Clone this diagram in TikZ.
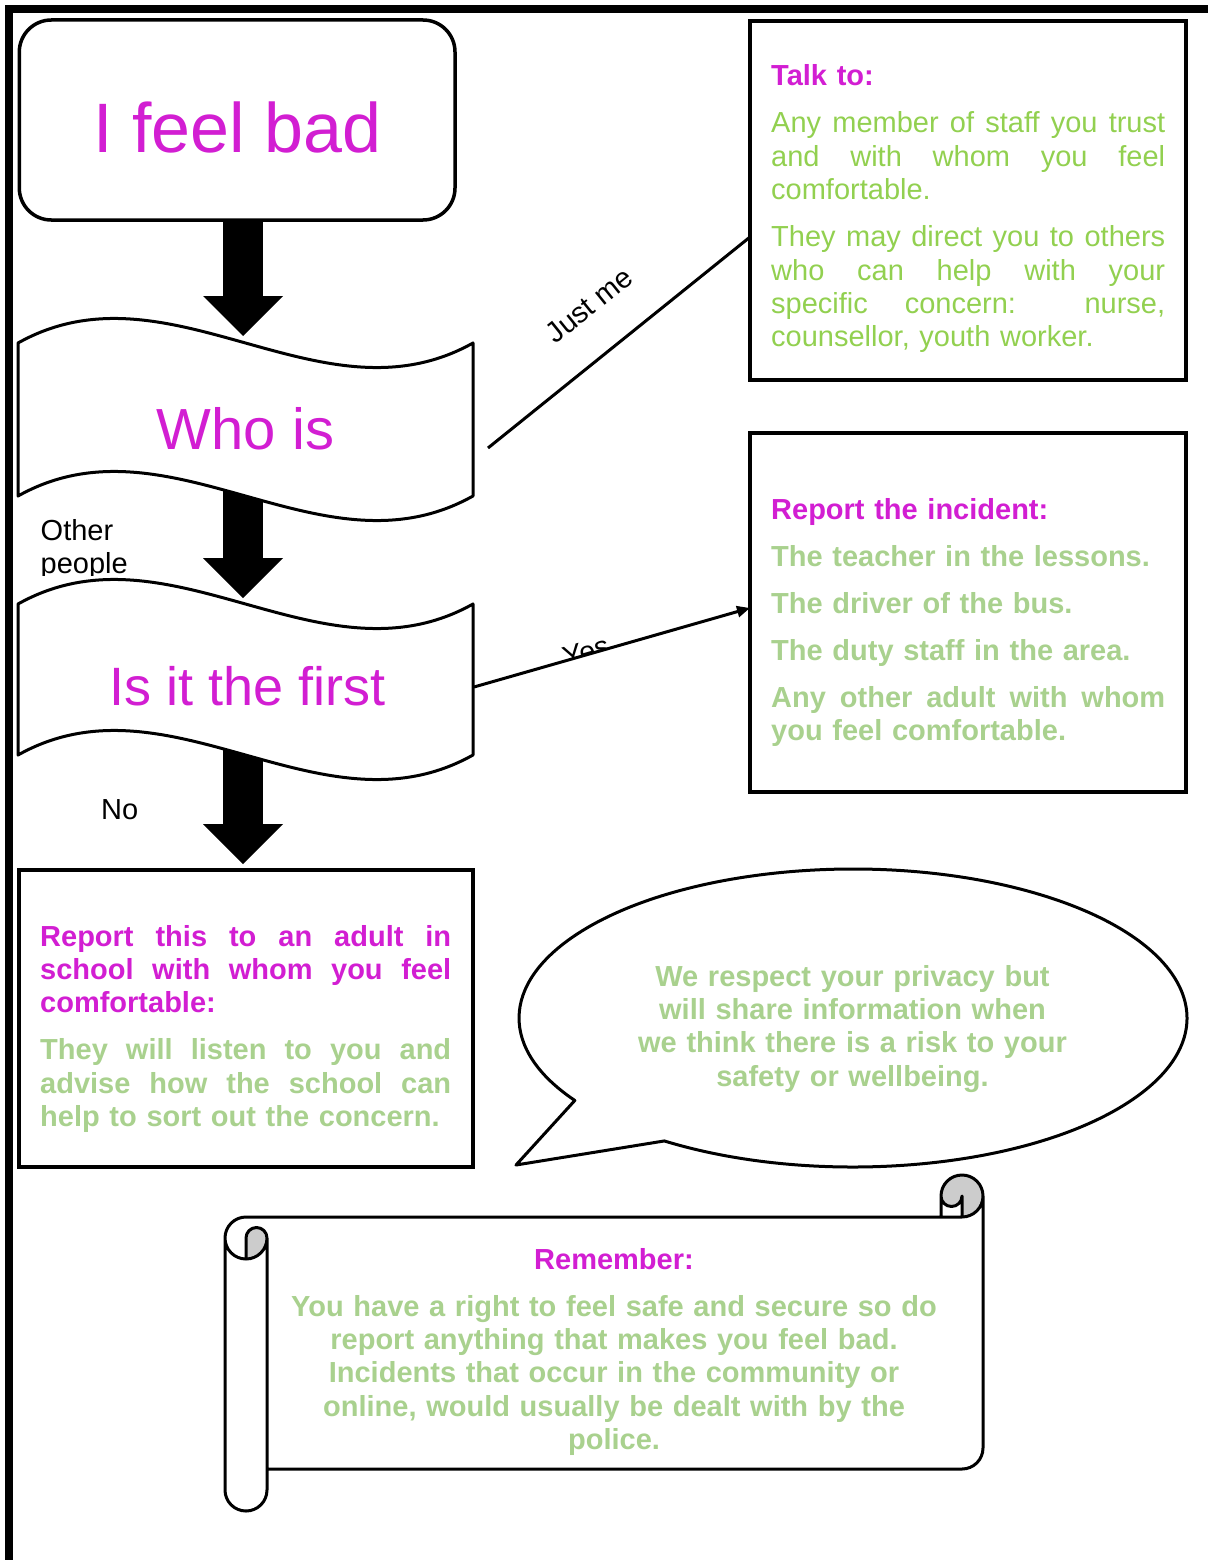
\documentclass[tikz,border=0pt]{standalone}
\usepackage{fontspec}
\setmainfont{Liberation Sans}
\usetikzlibrary{arrows.meta,calc}
\pgfdeclarelayer{bg}
\pgfsetlayers{bg,main}
\definecolor{mag}{RGB}{210,30,210}
\definecolor{lgreen}{RGB}{146,208,80}
\definecolor{pgreen}{RGB}{169,209,142}
\definecolor{rollgray}{RGB}{204,204,204}
\newcommand{\jline}[1]{\makebox[\hsize][s]{\spaceskip=0pt\xspaceskip=0pt #1}}
\begin{document}
\begin{tikzpicture}[x=1pt,y=1pt,
  box/.style={draw, line width=4pt, inner sep=0pt},
  conn/.style={line width=3pt},
  blockarrow/.style={line width=40pt, -{Triangle[length=40pt,width=80pt,line width=0pt]}},
  outline/.style={line width=3pt, line join=round},
  txt/.style={inner sep=0pt, font=\fontsize{29pt}{33.4pt}\selectfont},
  lbl/.style={inner sep=0pt, font=\fontsize{29pt}{33.4pt}\selectfont, text=black},
  big/.style={inner sep=0pt, text=mag}]
\useasboundingbox (0,0) rectangle (1207,-1560);

% frame
\draw[line width=8pt] (8.7,-1575) -- (8.7,-8.7) -- (1220,-8.7);

% I feel bad
\node[box, line width=3.5pt, rounded corners=32pt, minimum width=435.7pt, minimum height=200pt,
      text=mag, font=\fontsize{70pt}{80pt}\selectfont, text height=66pt, text depth=0pt]
      (feel) at (237.15,-120) {I feel bad};

% waves
\draw[outline, fill=white] (18,-343) .. controls (169.67,-258) and (321.33,-428) .. (473,-343)
   -- (473,-496) .. controls (321.33,-581) and (169.67,-411) .. (18,-496) -- cycle;
\draw[outline, fill=white] (18,-604) .. controls (169.67,-519) and (321.33,-689) .. (473,-604)
   -- (473,-755) .. controls (321.33,-840) and (169.67,-670) .. (18,-755) -- cycle;
\node[big, minimum width=455pt, minimum height=153pt, font=\fontsize{58pt}{66pt}\selectfont,
      text height=59pt, text depth=0pt] (who) at (245.5,-419.5) {Who is};
\node[big, minimum width=455pt, minimum height=151pt, font=\fontsize{54pt}{62pt}\selectfont,
      text height=51pt, text depth=0pt] (first) at (247.5,-679.5) {Is it the first};

% Talk to box
\node[box, minimum width=436pt, minimum height=358.7pt] (talk) at (968,-200.35) {};
\node[txt, anchor=base west, text width=394pt, align=left] (talktext) at (771,-86) {%
{\bfseries\color{mag}Talk to:}\\[13.6pt]
\color{lgreen}\jline{Any member of staff you trust}\\
\jline{and with whom you feel}\\
comfortable.\\[13.6pt]
\jline{They may direct you to others}\\
\jline{who can help with your}\\
\jline{specific concern: nurse,}\\
counsellor, youth worker.};

% Report the incident box
\node[box, minimum width=436pt, minimum height=359pt] (incident) at (968,-612.5) {};
\node[txt, anchor=base west, text width=394pt, align=left] (incidenttext) at (771,-519) {%
\bfseries\color{mag}Report the incident:\\[13.6pt]
\color{pgreen}The teacher in the lessons.\\[13.6pt]
The driver of the bus.\\[13.6pt]
The duty staff in the area.\\[13.6pt]
\jline{Any other adult with whom}\\
you feel comfortable.};

% Report this box
\node[box, minimum width=453.4pt, minimum height=296.7pt] (report) at (246,-1018.65) {};
\node[txt, anchor=base west, text width=411pt, align=left] (reporttext) at (40,-946) {%
\bfseries\color{mag}\jline{Report this to an adult in}\\
\jline{school with whom you feel}\\
comfortable:\\[13.6pt]
\color{pgreen}\jline{They will listen to you and}\\
\jline{advise how the school can}\\
help to sort out the concern.};

% speech bubble
\draw[outline, fill=white] (853,-1018) ++(235.6:334pt and 149pt)
   arc[start angle=235.6, end angle=573.6, x radius=334pt, y radius=149pt]
   -- (516,-1165) -- cycle;
\node[txt, anchor=base, text width=480pt, align=center] (bubbletext) at (852.5,-986) {%
\bfseries\color{pgreen}We respect your privacy but\\
will share information when\\
we think there is a risk to your\\
safety or wellbeing.};

% scroll
\path[fill=white] (225,-1238) arc[start angle=180,end angle=90,radius=21pt] -- (941,-1217) -- (941,-1196)
   arc[start angle=180,end angle=0,radius=21pt] -- (983,-1448) arc[start angle=0,end angle=-90,radius=21pt]
   -- (267,-1469) -- (267,-1490) arc[start angle=0,end angle=-180,radius=21pt] -- cycle;
\fill[rollgray] (246,-1259) arc[start angle=-90,end angle=0,radius=21pt] arc[start angle=0,end angle=180,radius=10.5pt] -- cycle;
\fill[rollgray] (962,-1217) arc[start angle=-90,end angle=180,radius=21pt] arc[start angle=180,end angle=360,radius=10.5pt] -- cycle;
\draw[outline] (225,-1238) arc[start angle=180,end angle=90,radius=21pt] -- (941,-1217) -- (941,-1196)
   arc[start angle=180,end angle=0,radius=21pt] -- (983,-1448) arc[start angle=0,end angle=-90,radius=21pt]
   -- (267,-1469) -- (267,-1490) arc[start angle=0,end angle=-180,radius=21pt] -- cycle
   (941,-1217) -- (962,-1217) arc[start angle=-90,end angle=0,radius=21pt]
   (962,-1217) -- (962,-1196) arc[start angle=0,end angle=-180,radius=10.5pt]
   (246,-1259) -- (246,-1238) arc[start angle=180,end angle=0,radius=10.5pt] arc[start angle=0,end angle=-180,radius=21pt]
   (267,-1238) -- (267,-1469);
\node[txt, anchor=base, text width=680pt, align=center] (remtext) at (614,-1269) {%
\bfseries\color{mag}Remember:\\[13.6pt]
\color{pgreen}You have a right to feel safe and secure so do\\
report anything that makes you feel bad.\\
Incidents that occur in the community or\\
online, would usually be dealt with by the\\
police.};

% labels
\begin{scope}
\clip (30,-480) rectangle (200,-575);
\node[lbl, anchor=base west, text width=150pt, align=left] (other) at (40.5,-540) {Other\\people};
\end{scope}
\node[lbl, anchor=base west] (no) at (101,-819) {No};

% connectors
\coordinate (jmS) at (488,-448);
\coordinate (jmE) at (750,-237);
\draw[conn] (jmS) -- node[lbl, midway, sloped, above=36pt] (justme) {Just me} (jmE);

\coordinate (yesS) at (474,-687);
\coordinate (yesE) at (750,-608);
\begin{scope}
\clip (yesS) -- (yesE) -- (750,-560) -- (474,-560) -- cycle;
\path (yesS) -- node[lbl, pos=0.41, sloped, anchor=base, yshift=-7pt] (yes) {Yes} (yesE);
\end{scope}
\draw[conn, -{Triangle[length=13pt,width=11pt]}] (yesS) -- (yesE);

% block arrows
\coordinate (a1t) at (243,-336);
\coordinate (a2t) at (243,-598);
\coordinate (a3t) at (243,-864);
\begin{pgfonlayer}{bg}
\draw[blockarrow] (feel.south -| a1t) -- (a1t);
\draw[blockarrow] (who.center -| a2t) -- (a2t);
\draw[blockarrow] (first.center -| a3t) -- (a3t);
\end{pgfonlayer}
\end{tikzpicture}
\end{document}
